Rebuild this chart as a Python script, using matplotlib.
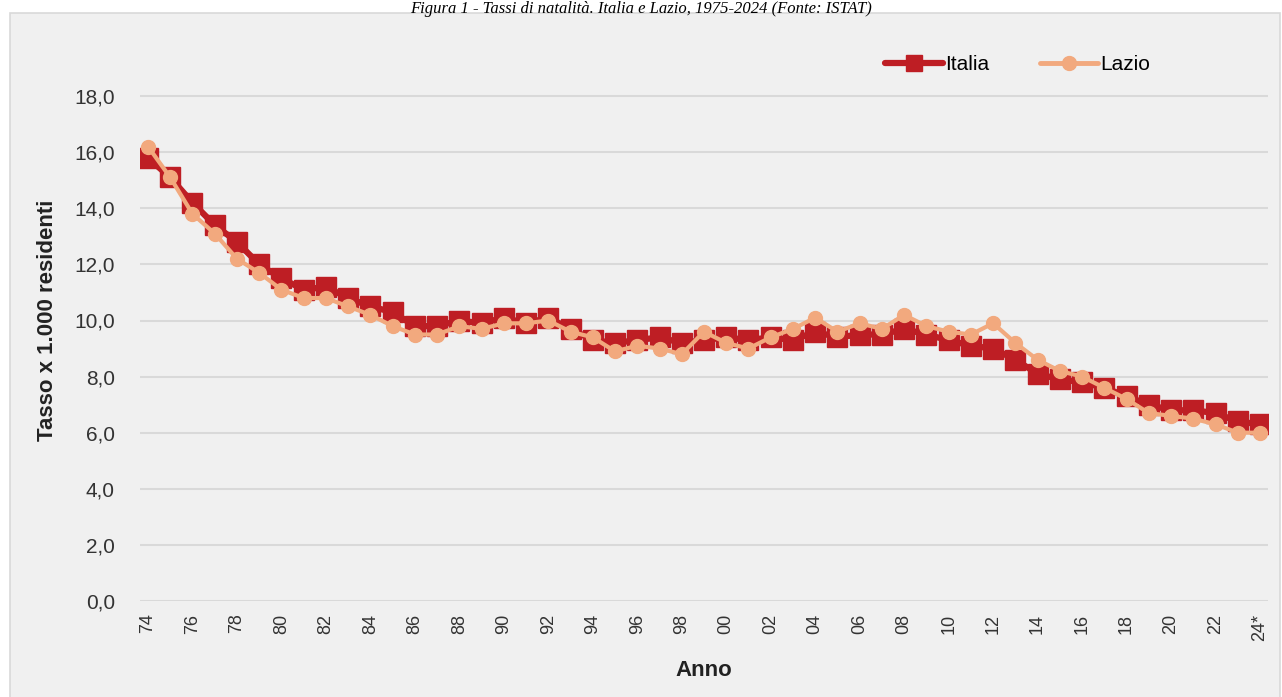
import matplotlib.pyplot as plt
from matplotlib.lines import Line2D
from matplotlib.patches import Rectangle

# Data
years = ["74", "75", "76", "77", "78", "79", "80", "81", "82", "83", "84", "85", "86", "87", "88", "89",
         "90", "91", "92", "93", "94", "95", "96", "97", "98", "99", "00", "01", "02", "03", "04", "05",
         "06", "07", "08", "09", "10", "11", "12", "13", "14", "15", "16", "17", "18", "19", "20", "21",
         "22", "23", "24*"]
italia = [15.8, 15.1, 14.2, 13.4, 12.8, 12.0, 11.5, 11.1, 11.2, 10.8, 10.5, 10.3, 9.8, 9.8, 10.0, 9.9,
          10.1, 9.9, 10.1, 9.7, 9.3, 9.2, 9.3, 9.4, 9.2, 9.3, 9.4, 9.3, 9.4, 9.3, 9.6, 9.4,
          9.5, 9.5, 9.7, 9.5, 9.3, 9.1, 9.0, 8.6, 8.1, 7.9, 7.8, 7.6, 7.3, 7.0, 6.8, 6.8,
          6.7, 6.4, 6.3]
lazio = [16.2, 15.1, 13.8, 13.1, 12.2, 11.7, 11.1, 10.8, 10.8, 10.5, 10.2, 9.8, 9.5, 9.5, 9.8, 9.7,
         9.9, 9.9, 10.0, 9.6, 9.4, 8.9, 9.1, 9.0, 8.8, 9.6, 9.2, 9.0, 9.4, 9.7, 10.1, 9.6,
         9.9, 9.7, 10.2, 9.8, 9.6, 9.5, 9.9, 9.2, 8.6, 8.2, 8.0, 7.6, 7.2, 6.7, 6.6, 6.5,
         6.3, 6.0, 6.0]
yticks = [0, 2, 4, 6, 8, 10, 12, 14, 16, 18]

plt.rcParams['font.family'] = ['Liberation Sans', 'DejaVu Sans']
red = '#be1e24'
peach = '#f2a97e'

fig = plt.figure(figsize=(12.82, 6.97), dpi=100)
fig.patch.set_facecolor('white')
bg = Rectangle((10 / 1282, -0.01), 1270 / 1282, 1 - 13 / 697 + 0.01,
               transform=fig.transFigure, facecolor='#f0f0f0',
               edgecolor='#d9d9d9', linewidth=1.2, zorder=-5)
fig.add_artist(bg)
fig.text(0.5, 0.999, "Figura 1 - Tassi di natalità. Italia e Lazio, 1975-2024 (Fonte: ISTAT)",
         ha='center', va='top', fontsize=12, style='italic', family='Liberation Serif', zorder=5)

ax = fig.add_axes([140 / 1282, 1 - 601 / 697, 1128 / 1282, 561 / 697])
ax.set_facecolor('none')
x = list(range(len(years)))
ax.plot(x, italia, color=red, linewidth=4.5, marker='s', markersize=15,
        solid_capstyle='round', zorder=3)
ax.plot(x, lazio, color=peach, linewidth=3, marker='o', markersize=10,
        solid_capstyle='round', zorder=4)

ax.set_xlim(-0.36, len(years) - 1 + 0.36)
ax.set_ylim(0, 20)
ax.set_yticks(yticks)
ax.set_yticklabels([f"{v:.1f}".replace('.', ',') for v in yticks], fontsize=15, color='#333333')
ax.set_xticks(x[::2])
ax.set_xticklabels(years[::2], rotation=90, fontsize=13, color='#333333')
ax.tick_params(length=0)
ax.tick_params(axis='y', pad=18)
ax.tick_params(axis='x', pad=9)
ax.grid(axis='y', color='#d9d9d9', linewidth=1.5)
ax.set_axisbelow(True)
for s in ax.spines.values():
    s.set_visible(False)

ax.set_ylabel('Tasso x 1.000 residenti', fontsize=16, fontweight='bold', color='#222222', labelpad=12)
ax.set_xlabel('Anno', fontsize=16, fontweight='bold', color='#222222', labelpad=14)

handles = [Line2D([], [], color=red, linewidth=4.5, marker='s', markersize=12, solid_capstyle='round'),
           Line2D([], [], color=peach, linewidth=3.5, marker='o', markersize=10, solid_capstyle='round')]
ax.legend(handles, ['Italia', 'Lazio'], loc='upper right', bbox_to_anchor=(0.912, 1.006), ncol=2,
          frameon=False, fontsize=15, handlelength=2.8, columnspacing=2.4, handletextpad=0.1)

plt.savefig('out.png', dpi=100, facecolor=fig.get_facecolor())
